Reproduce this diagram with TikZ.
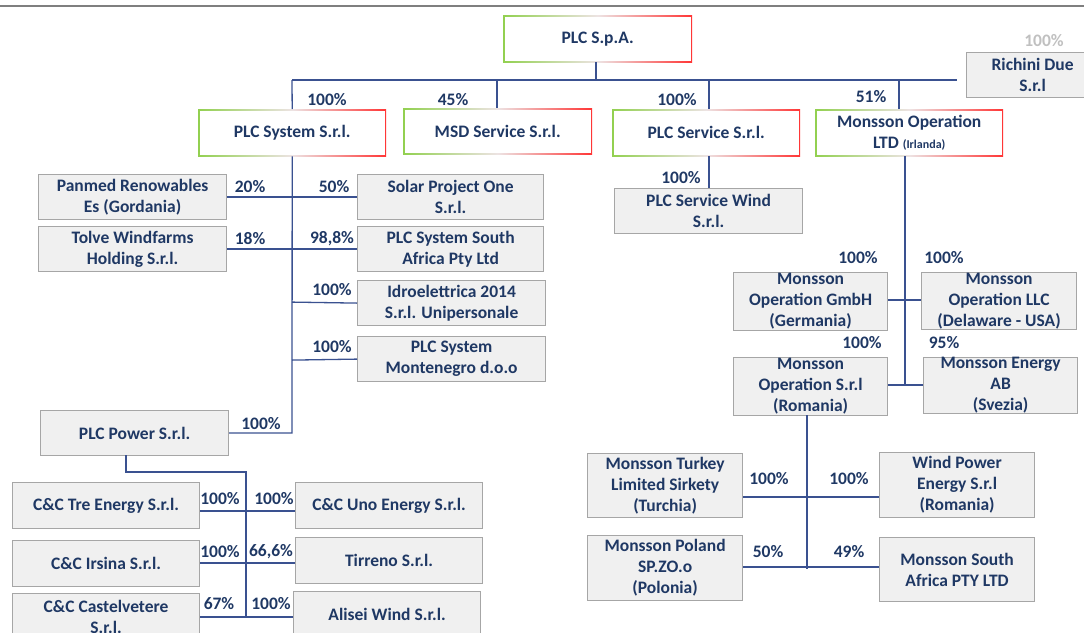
\documentclass[tikz,border=0pt]{standalone}
\usepackage{fontspec}
\setmainfont{Carlito}
\definecolor{navy}{HTML}{1F3864}
\definecolor{linec}{HTML}{3A5190}
\definecolor{boxfill}{HTML}{F0F0F0}
\definecolor{boxline}{HTML}{A6A6A6}
\definecolor{gL}{HTML}{92D050}
\definecolor{gM}{HTML}{EDE3E3}
\definecolor{gR}{HTML}{FF3535}
\definecolor{topline}{HTML}{7F7F7F}
\definecolor{lightpct}{HTML}{C0C0C0}
\tikzset{
  base/.style={font=\bfseries\fontsize{17.5}{21}\selectfont, text=navy, align=center, inner sep=0pt, anchor=north west},
  gbox/.style={base, minimum width=188pt, minimum height=47pt,
    left color=gL, right color=gR, middle color=gM,
    path picture={\fill[white] ([shift={(1.6pt,-1.6pt)}]path picture bounding box.north west) rectangle ([shift={(-1.6pt,1.6pt)}]path picture bounding box.south east);}},
  graybox/.style={base, fill=boxfill, draw=boxline, line width=1.2pt, minimum width=188pt, minimum height=45pt},
  mbox/.style={graybox, minimum width=154pt, minimum height=58pt},
  pct/.style={font=\bfseries\fontsize{17.5}{20}\selectfont, text=navy, inner sep=0pt},
  link/.style={draw=linec, line width=1.3pt}
}
\begin{document}
\begin{tikzpicture}[x=1pt,y=-1pt]
\useasboundingbox (0,0) rectangle (1084,632);
\clip (0,0) rectangle (1084,632);
\coordinate (tl) at (0,6);
\coordinate (tr) at (1084,6);
\draw[topline, line width=2pt] (tl) -- (tr);

% top level
\node[gbox, minimum width=189pt] (spa) at (503,15) {PLC S.p.A.};
\node[gbox] (sys) at (198,109) {PLC System S.r.l.};
\node[gbox, minimum width=189pt, minimum height=46pt] (msd) at (403,108) {MSD Service S.r.l.};
\node[gbox] (serv) at (612,109) {PLC Service S.r.l.};
\node[gbox] (ltd) at (815,109) {Monsson Operation\\LTD {\fontsize{12}{14}\selectfont (Irlanda)}};
\node[graybox, minimum width=132pt] (richini) at (966,52) {Richini Due\\S.r.l};

% left cluster
\node[graybox] (panmed) at (38,174) {Panmed Renowables\\Es (Gordania)};
\node[graybox] (tolve) at (38,226) {Tolve Windfarms\\Holding S.r.l.};
\node[graybox, minimum width=186pt] (solar) at (357,174) {Solar Project One\\S.r.l.};
\node[graybox, minimum width=186pt] (plcsa) at (357,226) {PLC System South\\Africa Pty Ltd};
\node[graybox] (idro) at (357,280) {Idroelettrica 2014\\S.r.l. Unipersonale};
\node[graybox] (monte) at (357,336) {PLC System\\Montenegro d.o.o};
\node[graybox] (power) at (40,410) {PLC Power S.r.l.};

% C&C cluster
\node[graybox, minimum width=187pt, minimum height=46pt] (tre) at (12,482) {C\&C Tre Energy S.r.l.};
\node[graybox, minimum width=187pt, minimum height=46pt] (uno) at (295,482) {C\&C Uno Energy S.r.l.};
\node[graybox, minimum width=187pt, minimum height=46pt] (irsina) at (12,540) {C\&C Irsina S.r.l.};
\node[graybox, minimum width=187pt, minimum height=46pt] (tirreno) at (295,537) {Tirreno S.r.l.};
\node[graybox, minimum width=187pt, minimum height=46pt] (castel) at (12,593) {C\&C Castelvetere\\S.r.l.};
\node[graybox, minimum width=187pt, minimum height=46pt] (alisei) at (293,591) {Alisei Wind S.r.l.};

% right cluster
\node[graybox] (wind) at (614,188) {PLC Service Wind\\S.r.l.};
\node[mbox] (gmbh) at (733,272) {Monsson\\Operation GmbH\\(Germania)};
\node[mbox, minimum width=155pt, minimum height=57pt] (llc) at (921,272) {Monsson\\Operation LLC\\(Delaware - USA)};
\node[mbox] (opsrl) at (733,357) {Monsson\\Operation S.r.l\\(Romania)};
\node[mbox, minimum height=56pt] (ab) at (923,357) {Monsson Energy\\AB\\(Svezia)};
\node[mbox, minimum width=155pt, minimum height=64pt] (turkey) at (587,453) {Monsson Turkey\\Limited Sirkety\\(Turchia)};
\node[mbox, minimum width=155pt, minimum height=65pt] (wpe) at (879,452) {Wind Power\\Energy S.r.l\\(Romania)};
\node[mbox, minimum width=155pt, minimum height=65pt] (poland) at (587,535) {Monsson Poland\\SP.ZO.o\\(Polonia)};
\node[mbox, minimum width=155pt, minimum height=64pt] (southafr) at (879,537) {Monsson South\\Africa PTY LTD};

% connectors: top
\coordinate (busL) at (292,80);
\coordinate (busR) at (957,80);
\coordinate (bSpa) at (596,80);
\coordinate (bMsd) at (497,80);
\coordinate (bServ) at (709,80);
\coordinate (bLtd) at (899,80);
\draw[link] (busL) -- (busR);
\draw[link] (spa.south -| bSpa) -- (bSpa);
\draw[link] (busL) -- (sys.north);
\draw[link] (bMsd) -- (bMsd |- msd.north);
\draw[link] (bServ) -- (bServ |- serv.north);
\draw[link] (bLtd) -- (bLtd |- ltd.north);

% PLC System trunk
\coordinate (sysBot) at (292,433);
\draw[link] (sys.south) -- (sysBot) -- (power.east |- sysBot);
\draw[link] (panmed.east) -- (solar.west);
\draw[link] (tolve.east) -- (plcsa.west);
\draw[link] (sysBot |- idro.west) ++(0,-1) -- (idro.west);
\draw[link] (sysBot |- monte.west) ++(0,1) -- (monte.west);

% PLC Power
\coordinate (pp0) at (126,455);
\coordinate (pp1) at (126,472);
\coordinate (pp2) at (246,472);
\coordinate (pp3) at (246,617);
\draw[link] (pp0) -- (pp1) -- (pp2) -- (pp3);
\coordinate (c1) at (246,511);
\coordinate (c2) at (246,563);
\draw[link] (tre.east |- c1) -- (uno.west |- c1);
\draw[link] (irsina.east |- c2) -- (tirreno.west |- c2);
\draw[link] (castel.east |- pp3) -- (alisei.west |- pp3);

% right trunks
\draw[link] (bServ |- serv.south) -- (bServ |- wind.north);
\coordinate (m0) at (905,156);
\coordinate (m1) at (905,385);
\draw[link] (m0) -- (m1);
\coordinate (m2) at (905,300);
\draw[link] (gmbh.east |- m2) -- (llc.west |- m2);
\draw[link] (opsrl.east |- m1) -- (ab.west |- m1);
\coordinate (r0) at (807,415);
\coordinate (r1) at (807,569);
\coordinate (r2) at (807,497);
\draw[link] (r0) -- (r1);
\draw[link] (turkey.east |- r2) -- (wpe.west |- r2);
\draw[link] (poland.east |- 0,567) -- (southafr.west |- 0,567);

% percentages
\node[pct] (p1) at (327,100) {100\%};
\node[pct] (p2) at (453,100) {45\%};
\node[pct] (p3) at (677,100) {100\%};
\node[pct] (p4) at (871,97) {51\%};
\node[pct, text=lightpct] (p5) at (1044,41) {100\%};
\node[pct] (p6) at (250,187) {20\%};
\node[pct] (p7) at (334,187) {50\%};
\node[pct] (p8) at (250,239) {18\%};
\node[pct] (p9) at (332,239) {98,8\%};
\node[pct] (p10) at (332,290) {100\%};
\node[pct] (p11) at (332,347) {100\%};
\node[pct] (p12) at (261,424) {100\%};
\node[pct] (p13) at (220,499) {100\%};
\node[pct] (p14) at (274,499) {100\%};
\node[pct] (p15) at (220,552) {100\%};
\node[pct] (p16) at (271,552) {66,6\%};
\node[pct] (p17) at (219,604) {67\%};
\node[pct] (p18) at (271,604) {100\%};
\node[pct] (p19) at (681,178) {100\%};
\node[pct] (p20) at (858,258) {100\%};
\node[pct] (p21) at (944,258) {100\%};
\node[pct] (p22) at (862,343) {100\%};
\node[pct] (p23) at (944,343) {95\%};
\node[pct] (p24) at (769,479) {100\%};
\node[pct] (p25) at (849,479) {100\%};
\node[pct] (p26) at (768,552) {50\%};
\node[pct] (p27) at (849,552) {49\%};
\end{tikzpicture}
\end{document}
